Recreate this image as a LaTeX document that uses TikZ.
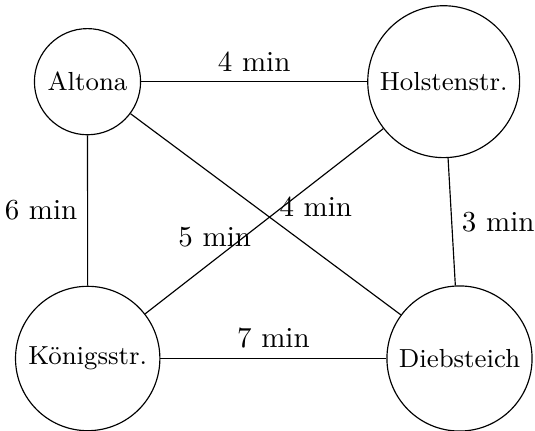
\documentclass[tikz,border=0pt]{standalone}
\begin{document}
\begin{tikzpicture}[
  x=0.3448pt, y=-0.3448pt,
  station/.style={draw, circle, font=\small},
  lbl/.style={font=\normalsize},
]
\useasboundingbox (0,0) rectangle (535,431);

% stations
\node[station] (alt) at (87.5,81.7)  {Altona};
\node[station] (hol) at (443.7,81.7) {Holstenstr.};
\node[station] (koe) at (87.7,358.5) {Königsstr.};
\node[station] (die) at (459.5,358.5) {Diebsteich};

% connections with travel times
\draw (alt) -- node[lbl, above] {4 min} (hol);
\draw (alt) -- node[lbl, left]  {6 min} (koe);
\draw (hol) -- node[lbl, right] {3 min} (die);
\draw (koe) -- node[lbl, above] {7 min} (die);
\draw (alt) -- (die);
\draw (koe) -- (hol);

% labels of the two diagonals
\node[lbl] (t-ad) at (315.8,207)   {4 min};
\node[lbl] (t-kh) at (214.7,237.3) {5 min};
\end{tikzpicture}
\end{document}
